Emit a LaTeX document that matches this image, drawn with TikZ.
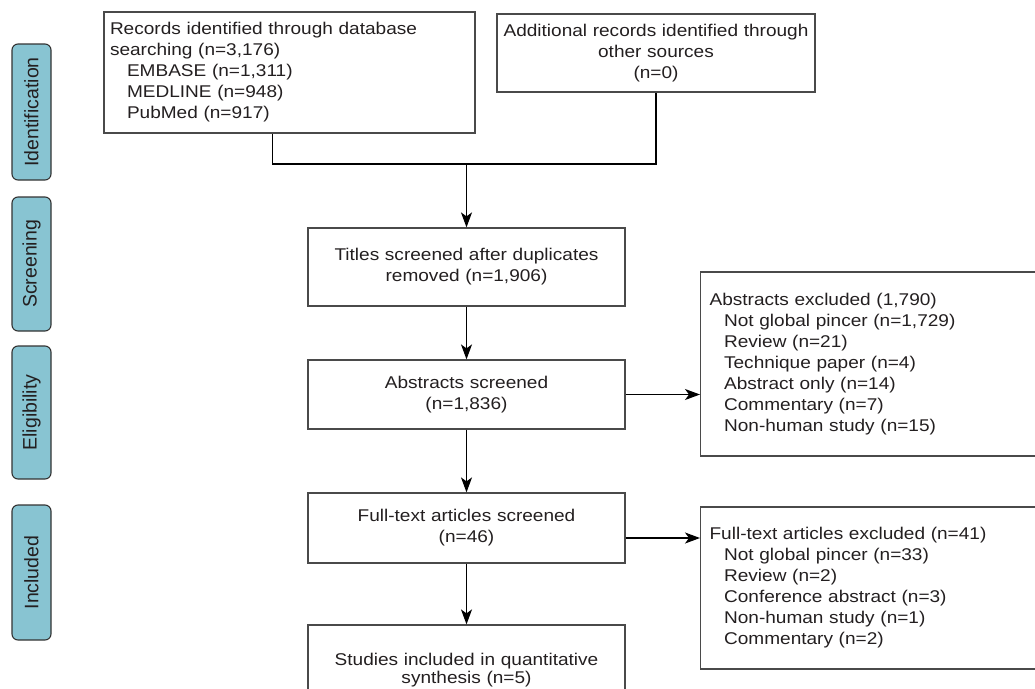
\documentclass[tikz,border=0pt]{standalone}
\usepackage{fontspec}
\setmainfont{Liberation Sans}[FakeStretch=1.12]
\newfontfamily\sidefont{Liberation Sans}
\usetikzlibrary{arrows.meta,calc}
\definecolor{labfill}{HTML}{88C4D2}
\definecolor{txt}{HTML}{231F20}
\definecolor{boxline}{HTML}{4A4A4A}
\begin{document}
\begin{tikzpicture}[x=1pt,y=-1pt,
  font=\fontsize{17}{21}\selectfont,
  every node/.style={text=txt},
  box/.style={draw=boxline,line width=1.2pt,inner xsep=6pt,inner ysep=0pt},
  cbox/.style={box,align=center},
  lbox/.style={box,align=left,inner xsep=9pt},
  side/.style={draw=black!80,fill=labfill,line width=1.1pt,rounded corners=6pt,
     rotate=90,minimum height=39pt,inner sep=0pt,font=\sidefont\fontsize{19.5}{21}\selectfont},
  conn/.style={draw=black,line width=1.2pt},
  arr/.style={conn,-{Stealth[length=15pt,width=11pt,inset=4pt]}}]
\useasboundingbox (0,0) rectangle (1035,688);
\clip (0,0) rectangle (1035,688);
% side labels
\node[side,minimum width=136pt] (ident) at (31.5,112) {Identification};
\node[side,minimum width=134pt] (screen) at (31.5,264) {Screening};
\node[side,minimum width=133pt] (elig) at (31.5,412.5) {Eligibility};
\node[side,minimum width=135pt] (incl) at (31.5,572.5) {Included};
% boxes
\node[box,align=left,text width=359pt,minimum height=121pt] (A) at (289.5,72.5)
 {Records identified through database\\searching (n=3,176)\\\hspace*{17pt}EMBASE (n=1,311)\\\hspace*{17pt}MEDLINE (n=948)\\\hspace*{17pt}PubMed (n=917)};
\node[cbox,text width=306pt,minimum height=78pt] (B) at (656,53)
 {Additional records identified through\\other sources\\(n=0)};
\node[cbox,text width=305pt,minimum height=78pt] (T) at (466.5,267)
 {Titles screened after duplicates\\removed (n=1,906)};
\node[cbox,text width=305pt,minimum height=69pt] (AS) at (466.5,394.5)
 {Abstracts screened\\(n=1,836)};
\node[cbox,text width=305pt,minimum height=70pt] (FT) at (466.5,528)
 {Full-text articles screened\\(n=46)};
\node[cbox,text width=305pt,minimum height=90pt,font=\fontsize{17}{17.5}\selectfont] (S) at (466.5,670)
 {Studies included in quantitative\\synthesis (n=5)};
\node[lbox,anchor=west,text width=342pt,minimum height=184pt] (AX) at (700,364)
 {Abstracts excluded (1,790)\\\hspace*{14.5pt}Not global pincer (n=1,729)\\\hspace*{14.5pt}Review (n=21)\\\hspace*{14.5pt}Technique paper (n=4)\\\hspace*{14.5pt}Abstract only (n=14)\\\hspace*{14.5pt}Commentary (n=7)\\\hspace*{14.5pt}Non-human study (n=15)};
\node[lbox,anchor=west,text width=342pt,minimum height=162pt] (FX) at (700,588)
 {Full-text articles excluded (n=41)\\\hspace*{14.5pt}Not global pincer (n=33)\\\hspace*{14.5pt}Review (n=2)\\\hspace*{14.5pt}Conference abstract (n=3)\\\hspace*{14.5pt}Non-human study (n=1)\\\hspace*{14.5pt}Commentary (n=2)};
% connectors
\coordinate (aout) at ($(A.south)+(-17,0)$);
\coordinate (j) at (466.5,164);
\draw[conn] (aout) |- (B.south |- j) -- (B.south);
\draw[arr] (j) -- (T.north);
\draw[arr] (T.south) -- (AS.north);
\draw[arr] (AS.south) -- (FT.north);
\draw[arr] (FT.south) -- (S.north);
\draw[arr] (AS.east) -- (AS.east -| AX.west);
\coordinate (ftout) at ($(FT.east)+(0,10)$);
\draw[arr] (ftout) -- (ftout -| FX.west);
\end{tikzpicture}
\end{document}
